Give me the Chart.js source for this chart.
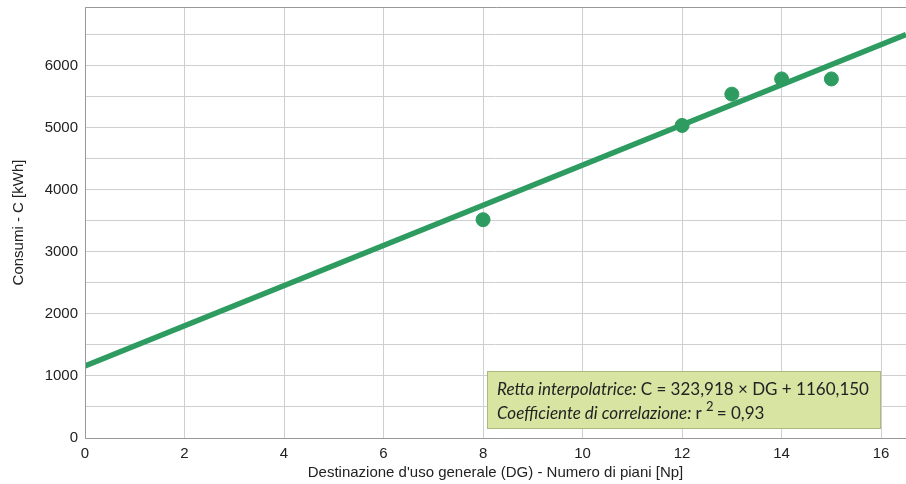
<!DOCTYPE html>
<html>
<head>
<meta charset="utf-8">
<script src="https://cdn.jsdelivr.net/npm/chart.js@4.4.1/dist/chart.umd.min.js"></script>
<style>
  html, body { margin: 0; padding: 0; background: #fff; }
  #wrap { width: 906px; height: 484px; }
</style>
</head>
<body>
<div id="wrap"><canvas id="chart" width="906" height="484"></canvas></div>
<script>
// misure: piani vs consumi
const floors = [8, 12, 13, 14, 15];
const consumption = [3520, 5040, 5545, 5790, 5790];

// retta interpolatrice
const slope = 323.918;
const intercept = 1160.150;
const r2 = 0.93;
const xRange = [0, 16.5];
const yRange = [0, 6950];

const xTicks = [0, 2, 4, 6, 8, 10, 12, 14, 16];
const yTicks = [0, 500, 1000, 1500, 2000, 2500, 3000, 3500, 4000, 4500, 5000, 5500, 6000, 6500];

const green = '#2e9c60';

const fitLine = xRange.map(x => ({ x: x, y: slope * x + intercept }));
const points = floors.map((x, i) => ({ x: x, y: consumption[i] }));

const fmt = (v, d) => v.toFixed(d).replace('.', ',');

const boxPlugin = {
    id: 'infoBox',
    afterDatasetsDraw(chart) {
        const ctx = chart.ctx;
        const area = chart.chartArea;
        const w = 393, h = 57;
        const x0 = area.right - 26 - w;
        const y0 = area.bottom - 10 - h;
        ctx.save();
        ctx.fillStyle = '#d7e4a2';
        ctx.strokeStyle = '#a9ba7c';
        ctx.lineWidth = 1;
        ctx.fillRect(x0, y0, w, h);
        ctx.strokeRect(x0 + 0.5, y0 + 0.5, w, h);

        ctx.fillStyle = '#222';
        ctx.textBaseline = 'alphabetic';
        let tx = x0 + 10;
        let ty = y0 + 24;
        ctx.font = 'italic 17px Lato';
        ctx.fillText('Retta interpolatrice:', tx, ty);
        tx += ctx.measureText('Retta interpolatrice: ').width;
        ctx.font = '17px Lato';
        ctx.fillText('C = ' + fmt(slope, 3) + ' × DG + ' + fmt(intercept, 3), tx, ty);

        tx = x0 + 10;
        ty = y0 + 48;
        ctx.font = 'italic 17px Lato';
        ctx.fillText('Coefficiente di correlazione:', tx, ty);
        tx += ctx.measureText('Coefficiente di correlazione: ').width;
        ctx.font = '17px Lato';
        ctx.fillText('r', tx, ty);
        tx += ctx.measureText('r ').width;
        ctx.font = '13px Lato';
        ctx.fillText('2', tx, ty - 8);
        tx += ctx.measureText('2 ').width;
        ctx.font = '17px Lato';
        ctx.fillText('= ' + fmt(r2, 2), tx, ty);
        ctx.restore();
    }
};

const framePlugin = {
    id: 'frame',
    afterDraw(chart) {
        const ctx = chart.ctx;
        const a = chart.chartArea;
        ctx.save();
        ctx.strokeStyle = '#999';
        ctx.lineWidth = 1;
        ctx.beginPath();
        ctx.moveTo(a.right + 5, a.top + 0.5);
        ctx.lineTo(a.left + 0.5, a.top + 0.5);
        ctx.lineTo(a.left + 0.5, a.bottom + 0.5);
        ctx.lineTo(a.right + 5, a.bottom + 0.5);
        ctx.stroke();
        ctx.restore();
    }
};

new Chart(document.getElementById('chart').getContext('2d'), {
    type: 'scatter',
    data: {
        datasets: [
            {
                type: 'line',
                data: fitLine,
                borderColor: green,
                borderWidth: 5.5,
                pointRadius: 0,
                fill: false,
                order: 1
            },
            {
                data: points,
                backgroundColor: green,
                borderColor: green,
                pointRadius: 7,
                order: 2
            }
        ]
    },
    options: {
        responsive: false,
        animation: false,
        layout: { autoPadding: false, padding: { top: 7, right: 0, left: 0, bottom: 0 } },
        plugins: {
            legend: { display: false },
            tooltip: { enabled: false }
        },
        scales: {
            x: {
                type: 'linear',
                min: xRange[0],
                max: xRange[1],
                afterBuildTicks(scale) { scale.ticks = xTicks.map(v => ({ value: v })); },
                afterFit(scale) {
                    scale.height = 46;
                    scale.paddingLeft = 0;
                    scale.paddingRight = 0;
                },
                grid: { color: '#cfcfcf', borderDash: [1, 1], drawTicks: false },
                border: { display: false },
                ticks: {
                    autoSkip: false,
                    maxRotation: 0,
                    padding: 7,
                    color: '#222',
                    font: { family: 'Liberation Sans', size: 15 }
                },
                title: {
                    display: true,
                    text: "Destinazione d'uso generale (DG) - Numero di piani [Np]",
                    color: '#222',
                    font: { family: 'Liberation Sans', size: 15 },
                    padding: { top: 0, bottom: 2 }
                }
            },
            y: {
                type: 'linear',
                min: yRange[0],
                max: yRange[1],
                afterBuildTicks(scale) { scale.ticks = yTicks.map(v => ({ value: v })); },
                afterFit(scale) {
                    scale.width = 85;
                    scale.paddingTop = 0;
                    scale.paddingBottom = 0;
                },
                grid: { color: '#cfcfcf', borderDash: [1, 1], drawTicks: false },
                border: { display: false },
                ticks: {
                    autoSkip: false,
                    padding: 7,
                    color: '#222',
                    font: { family: 'Liberation Sans', size: 15 },
                    callback: v => (v % 1000 === 0 ? v : '')
                },
                title: {
                    display: true,
                    text: 'Consumi - C [kWh]',
                    color: '#222',
                    font: { family: 'Liberation Sans', size: 15 },
                    padding: { top: 10, bottom: 0 }
                }
            }
        }
    },
    plugins: [framePlugin, boxPlugin]
});
</script>
</body>
</html>
